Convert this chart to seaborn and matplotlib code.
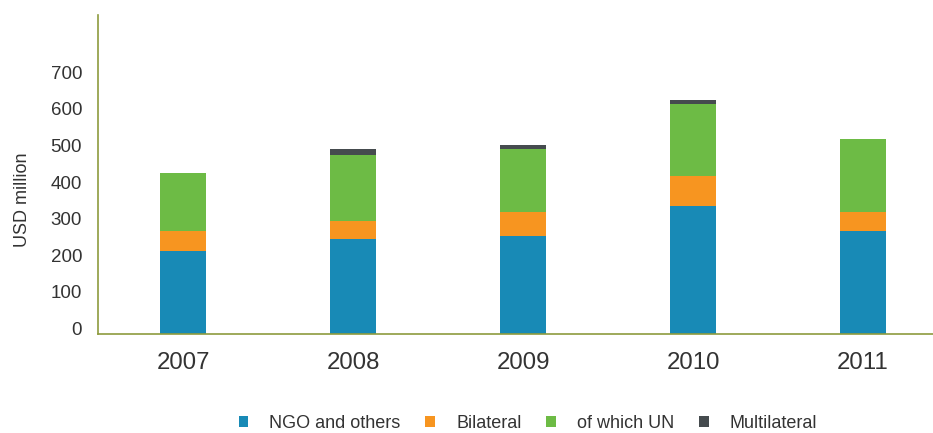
import matplotlib
matplotlib.use("Agg")
import matplotlib.pyplot as plt
import matplotlib.transforms as mtransforms
from matplotlib.patches import Patch
import numpy as np
import pandas as pd
import seaborn as sns

# Humanitarian funding by channel, USD million
years = ["2007", "2008", "2009", "2010", "2011"]
ngo_and_others = [226, 258, 267, 349, 280]
bilateral = [54, 48, 65, 82, 52]
of_which_un = [159, 182, 172, 197, 200]
multilateral = [0, 16, 11, 11, 0]

series_names = ["NGO and others", "Bilateral", "of which UN", "Multilateral"]
series_values = [ngo_and_others, bilateral, of_which_un, multilateral]
colors = ["#188AB6", "#F79520", "#6DBB45", "#454B4E"]
y_ticks = [0, 100, 200, 300, 400, 500, 600, 700]

sns.set_style("white")
plt.rcParams["font.family"] = ["Liberation Sans", "DejaVu Sans"]

fig = plt.figure(figsize=(9.33, 4.33), dpi=100)
W, H = 933, 433
ax = fig.add_axes([98 / W, 1 - 333.5 / H, 850 / W, (333.5 - 15) / H])

bottom = np.zeros(len(years))
for name, vals, col in zip(series_names, series_values, colors):
    df = pd.DataFrame({"year": years, "value": vals})
    sns.barplot(data=df, x="year", y="value", order=years, color=col,
                bottom=bottom, width=0.27, saturation=1, ax=ax,
                linewidth=0, errorbar=None)
    bottom = bottom + np.array(vals)

ax.set_xlim(-0.5, 4.5)
ax.set_ylim(0, 870)
ax.set_yticks(y_ticks)
ax.set_yticklabels([str(t) for t in y_ticks])
ax.set_xlabel("")
ax.set_ylabel("USD million", fontsize=13, color="#333333")
ax.yaxis.set_label_coords((31 - 98) / 850, (333.5 - 200) / 318.5)

axis_color = "#8E9B3E"
for side in ["top", "right"]:
    ax.spines[side].set_visible(False)
for side in ["left", "bottom"]:
    ax.spines[side].set_color(axis_color)
    ax.spines[side].set_linewidth(1.2)

ax.tick_params(axis="y", length=0, pad=11.5, labelsize=13.5, labelcolor="#333333")
ax.tick_params(axis="x", length=0, pad=13.5, labelsize=17.3, labelcolor="#333333")

# lift the value labels slightly above their ticks
offset = mtransforms.ScaledTranslation(0, 5 / 100, fig.dpi_scale_trans)
for lbl in ax.get_yticklabels():
    lbl.set_transform(lbl.get_transform() + offset)

handles = [Patch(facecolor=c, edgecolor="none") for c in colors]
fig.legend(handles, series_names, loc="center", bbox_to_anchor=(528 / W, 1 - 423 / H),
           ncol=4, frameon=False, fontsize=13, handlelength=0.55, handleheight=0.55,
           handletextpad=1.15, columnspacing=1.38, labelcolor="#333333",
           borderpad=0, borderaxespad=0)

fig.savefig("out.png", dpi=100)
